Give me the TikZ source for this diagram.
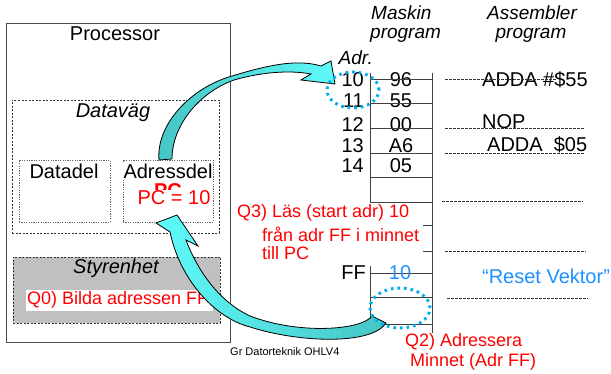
\documentclass[tikz,border=0pt]{standalone}
\usepackage{fontspec}
\setmainfont{Liberation Sans}
\usetikzlibrary{shapes.geometric}
\begin{document}
\begin{tikzpicture}[x=1pt,y=-1pt,
  lbl/.style={inner sep=0pt,font=\fontsize{20}{24}\selectfont},
  hdr/.style={inner sep=0pt,font=\fontsize{19}{22}\selectfont\itshape},
  red18/.style={inner sep=0pt,text=red,font=\fontsize{18}{21}\selectfont,anchor=west},
  memline/.style={draw=black!75,line width=0.9pt},
  asmline/.style={draw=black!80,line width=0.7pt,dash pattern=on 2.5pt off 1.5pt},
  dotring/.style={draw=cyan,line width=3pt,dash pattern=on 2.6pt off 4pt},
  bigarrow/.style={draw=black,line width=0.8pt},
]
\definecolor{tealA}{RGB}{70,196,196}
\definecolor{cyanA}{RGB}{95,250,250}
\definecolor{blueR}{RGB}{30,144,255}
\definecolor{grayS}{RGB}{192,192,192}
\useasboundingbox (0,0) rectangle (611,374);
\fill[white] (0,0) rectangle (611,374);

% processor
\node[draw=black!70,line width=1pt,minimum width=224pt,minimum height=319pt,inner sep=0pt] (proc) at (118,183.5) {};
\node[lbl] (proclbl) at (115,34) {Processor};
\node[draw=black!80,line width=0.7pt,dash pattern=on 2pt off 1.5pt,minimum width=207pt,minimum height=133pt,inner sep=0pt] (datavag) at (115.5,166.5) {};
\node[lbl,font=\fontsize{20}{24}\selectfont\itshape] (dvlbl) at (113,113) {Datav\"ag};
\node[draw=black!60,line width=0.7pt,dash pattern=on 1.2pt off 1.2pt,minimum width=91pt,minimum height=62pt,inner sep=0pt] (datadel) at (64.5,191) {};
\node[lbl] (ddlbl) at (64,171) {Datadel};
\node[draw=black!60,line width=0.7pt,dash pattern=on 1.2pt off 1.2pt,minimum width=90pt,minimum height=62pt,inner sep=0pt] (adrdel) at (168,191) {};
\node[lbl,text=red,font=\fontsize{20}{24}\selectfont\bfseries] (pcbold) at (168,191) {PC};
\node[lbl,fill=white,inner sep=1pt] (adlbl) at (168,171) {Adressdel};
\node[lbl,text=red,fill=white,inner sep=1pt] (pc) at (174,198) {PC = 10};

\node[draw=black!80,fill=grayS,line width=0.7pt,dash pattern=on 2pt off 1.5pt,minimum width=207pt,minimum height=66pt,inner sep=0pt] (styr) at (116.5,290) {};
\node[lbl,font=\fontsize{20}{24}\selectfont\itshape] (stlbl) at (116,268) {Styrenhet};
\node[fill=white,minimum width=187pt,minimum height=21pt,inner sep=0pt] (q0box) at (119.5,300.5) {};
\node[red18] (q0) at (27,300) {Q0) Bilda adressen FF};

% headers
\node[hdr,anchor=west] (mask1) at (371,13) {Maskin};
\node[hdr,anchor=west] (mask2) at (370,35) {program};
\node[hdr] (asm1) at (532,13) {Assembler};
\node[hdr] (asm2) at (531,35) {program};
\node[hdr,anchor=east] (adr) at (373,58) {Adr.};

% memory lines
\coordinate (L1) at (370,73); \coordinate (L2) at (370,203);
\coordinate (L3) at (370,266); \coordinate (L4) at (370,322);
\coordinate (R1) at (432,73); \coordinate (R2) at (432,333);
\draw[memline] (L1) -- (L2);
\draw[memline] (L3) -- (L4);
\draw[memline] (R1) -- (R2);
\foreach \yy in {79,103,128,153,177,202,273,297,324}{
  \draw[memline] (370,\yy) -- (432,\yy);
}
\foreach \yy in {225,251}{
  \draw[memline] (423,\yy) -- (432,\yy);
}

% addresses and values
\node[lbl,anchor=east] (a10) at (364,80) {10};
\node[lbl,anchor=east] (a11) at (364,101) {11};
\node[lbl,anchor=east] (a12) at (364,125) {12};
\node[lbl,anchor=east] (a13) at (364,146) {13};
\node[lbl,anchor=east] (a14) at (364,166) {14};
\node[lbl,anchor=east] (aff) at (366,273) {FF};
\node[lbl] (v96) at (401,80) {96};
\node[lbl] (v55) at (401,101) {55};
\node[lbl] (v00) at (401,125) {00};
\node[lbl] (vA6) at (401,146) {A6};
\node[lbl] (v05) at (401,166) {05};
\node[lbl,text=blueR] (vff) at (400,273) {10};
% redraw lines over values (strike-through look)
\foreach \yy in {79,103,128}{
  \draw[memline] (370,\yy) -- (432,\yy);
}

% assembler
\node[lbl,anchor=west] (s1) at (482,80) {ADDA};
\node[lbl,anchor=west] (s2) at (543,80) {\#\$55};
\node[lbl,anchor=west] (s3) at (482,122) {NOP};
\node[lbl,anchor=west] (s4) at (487,145) {ADDA\ \ \$05};
\draw[asmline] (445,79) -- (557,79);
\draw[asmline] (445,128) -- (585,128);
\draw[asmline] (445,153) -- (585,153);
\draw[asmline] (442,201) -- (583,201);
\draw[asmline] (445,251) -- (586,251);
\draw[asmline] (447,298) -- (588,298);
\node[lbl,text=blueR] (reset) at (546,276) {\textquotedblleft Reset Vektor\textquotedblright};

% Q texts
\node[red18] (q3a) at (237,213) {Q3) L\"as (start adr) 10};
\node[red18] (q3b) at (262,234) {fr\aa n adr FF i minnet};
\node[red18] (q3c) at (262,253) {till PC};
\node[red18] (q2a) at (405,342) {Q2) Adressera};
\node[red18] (q2b) at (410,362) {Minnet (Adr FF)};
\node[inner sep=0pt,anchor=west,font=\fontsize{11}{13}\selectfont] (foot) at (230,352) {Gr Datorteknik OHLV4};

% big arrows
\shadedraw[bigarrow,left color=tealA,right color=cyanA]
 (159,160) .. controls (156,125) and (190,88) .. (232,76)
 .. controls (262,67) and (295,58) .. (321,66) -- (331,61) -- (335,84) -- (301,80) -- (311,74)
 .. controls (290,70) and (262,72) .. (234,80)
 .. controls (200,92) and (172,125) .. (172,159) -- cycle;
\shadedraw[bigarrow,left color=cyanA,right color=tealA]
 (372,316) .. controls (362,330) and (300,335) .. (250,316)
 .. controls (220,302) and (198,272) .. (186,240) -- (198,246) -- (177,215) -- (156,223) -- (170,232)
 .. controls (180,280) and (215,318) .. (250,327)
 .. controls (300,343) and (372,345) .. (386,323) -- cycle;

% dotted rings
\node[dotring,ellipse,minimum width=52pt,minimum height=36pt,inner sep=0pt] (ring1) at (353,90) {};
\node[dotring,ellipse,minimum width=60pt,minimum height=40pt,inner sep=0pt] (ring2) at (400,308) {};
\end{tikzpicture}
\end{document}
